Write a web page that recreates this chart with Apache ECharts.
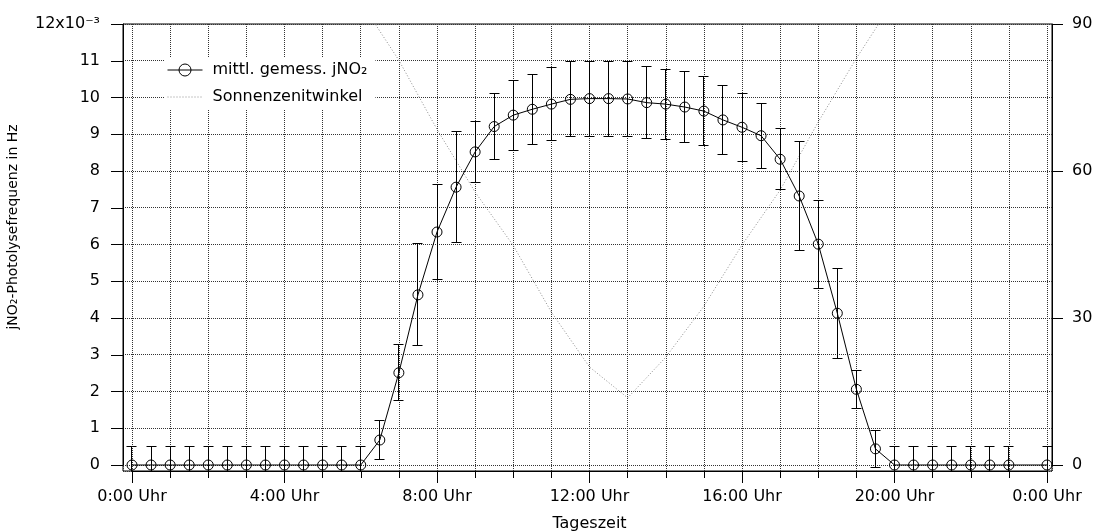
<!DOCTYPE html>
<html>
<head>
<meta charset="utf-8">
<script src="https://cdn.jsdelivr.net/npm/echarts@6/dist/echarts.min.js"></script>
<style>
  html, body { margin: 0; padding: 0; background: #fff; }
  #chart { width: 1101px; height: 531px; }
</style>
</head>
<body>
<div id="chart"></div>
<script>
// Time of day (hours) of the half-hourly means
var times = [0, 0.5, 1, 1.5, 2, 2.5, 3, 3.5, 4, 4.5, 5, 5.5, 6, 6.5, 7, 7.5, 8, 8.5, 9, 9.5,
             10, 10.5, 11, 11.5, 12, 12.5, 13, 13.5, 14, 14.5, 15, 15.5, 16, 16.5, 17, 17.5,
             18, 18.5, 19, 19.5, 20, 20.5, 21, 21.5, 22, 22.5, 23, 24];
// mean measured jNO2 in 10^-3 Hz
var jno2 = [0, 0, 0, 0, 0, 0, 0, 0, 0, 0, 0, 0, 0,
            0.68, 2.51, 4.63, 6.34, 7.56, 8.52, 9.21, 9.52, 9.68, 9.82, 9.95, 9.97, 9.97, 9.96,
            9.86, 9.82, 9.74, 9.63, 9.39, 9.19, 8.96, 8.32, 7.32, 6.01, 4.13, 2.06, 0.44,
            0, 0, 0, 0, 0, 0, 0, 0];
// standard deviation of jNO2 in 10^-3 Hz
var jno2Err = [0.5, 0.5, 0.5, 0.5, 0.5, 0.5, 0.5, 0.5, 0.5, 0.5, 0.5, 0.5, 0.5,
               0.52, 0.76, 1.39, 1.30, 1.51, 0.84, 0.91, 0.95, 0.95, 1.00, 1.02, 1.02, 1.02, 1.02,
               0.98, 0.95, 0.97, 0.94, 0.95, 0.92, 0.88, 0.83, 1.47, 1.20, 1.23, 0.51, 0.51,
               0.5, 0.5, 0.5, 0.5, 0.5, 0.5, 0.5, 0.5];
// solar zenith angle in degrees, hourly
var zenithTimes = [6, 7, 8, 9, 10, 11, 12, 13, 14, 15, 16, 17, 18, 19, 20];
var zenith = [94.5, 82.6, 68.5, 55.7, 44.8, 31.2, 20.0, 13.7, 22.0, 32.4, 44.9, 56.1, 70.0, 83.0, 95.0];

// axis ranges and tick spacing
var X_RANGE = [0, 24], X_MINOR_STEP = 1, X_LABEL_STEP = 4;
var Y_RANGE = [0, 12], Y_STEP = 1;
var Y2_RANGE = [0, 90], Y2_STEP = 30;

var FONT = 'DejaVu Sans';
// the frame reaches a little beyond the data range on each side (in axis units)
var X_PAD = [0.236, 0.131];
var Y_PAD = 0.1633;
var Y2_PAD = Y_PAD * Y2_RANGE[1] / Y_RANGE[1];

var NAME_J = 'mittl. gemess. jNO\u2082';
var NAME_Z = 'Sonnenzenitwinkel';

var lineData = times.map(function (t, i) { return [t, jno2[i]]; });
var errData = times.map(function (t, i) { return [t, jno2[i] - jno2Err[i], jno2[i] + jno2Err[i]]; });
var zenData = zenithTimes.map(function (t, i) { return [t, zenith[i]]; });

function crisp(v) { return Math.round(v - 0.5) + 0.5; }

var black = { color: '#000', width: 1 };
var gridLine = { show: true, lineStyle: { color: '#333', width: 1, type: 'dotted' } };
var off = { show: false };
var axisOff = { show: false, onZero: false };
var axisOn = { show: true, onZero: false, lineStyle: black };

var chart = echarts.init(document.getElementById('chart'), null, { renderer: 'canvas' });
chart.setOption({
  animation: false,
  backgroundColor: '#fff',
  textStyle: { fontFamily: FONT },
  grid: [{
    // plot frame; holds the series and the dotted grid
    left: 123, right: 49, top: 24, bottom: 60,
    show: true, borderColor: '#000', borderWidth: 1, backgroundColor: 'transparent',
    containLabel: false, outerBoundsMode: 'none'
  }, {
    // data range; carries the tick marks and labels
    left: 132, right: 54, top: 24, bottom: 66,
    show: false, containLabel: false, outerBoundsMode: 'none'
  }],
  legend: {
    orient: 'vertical', left: 165, top: 57,
    backgroundColor: '#fff', padding: [5, 8, 5, 2],
    itemWidth: 35, itemHeight: 15, itemGap: 11,
    selectedMode: false,
    textStyle: { fontFamily: FONT, fontSize: 16, color: '#000', lineHeight: 16, padding: [0, 0, 0, 5] },
    data: [
      { name: NAME_J, itemStyle: { color: 'rgba(0,0,0,0)', borderColor: '#000', borderWidth: 1 },
        lineStyle: { color: '#000', width: 1, type: 'solid' } },
      { name: NAME_Z, itemStyle: { color: 'rgba(0,0,0,0)', borderWidth: 0, opacity: 0 },
        lineStyle: { color: '#8c8c8c', width: 1, type: [1, 2] } }
    ]
  },
  xAxis: [{
    // frame x axis: hourly grid lines
    gridIndex: 0, type: 'value',
    min: X_RANGE[0] - X_PAD[0], max: X_RANGE[1] + X_PAD[1],
    minInterval: X_MINOR_STEP, maxInterval: X_MINOR_STEP,
    axisLine: axisOff, axisTick: off, axisLabel: off, splitLine: gridLine
  }, {
    // hourly ticks
    gridIndex: 1, type: 'value', position: 'bottom', offset: 6,
    min: X_RANGE[0], max: X_RANGE[1], interval: X_MINOR_STEP,
    name: 'Tageszeit', nameLocation: 'middle', nameGap: 45, nameMoveOverlap: false,
    nameTextStyle: { fontFamily: FONT, fontSize: 16, color: '#000' },
    axisLine: axisOn,
    axisTick: { show: true, length: 7, lineStyle: black },
    axisLabel: off, splitLine: off
  }, {
    // four-hourly ticks with labels
    gridIndex: 1, type: 'value', position: 'bottom', offset: 6,
    min: X_RANGE[0], max: X_RANGE[1], interval: X_LABEL_STEP,
    axisLine: axisOff,
    axisTick: { show: true, length: 12, lineStyle: black },
    axisLabel: {
      show: true, margin: 18, fontFamily: FONT, fontSize: 16, color: '#000',
      formatter: function (v) { return (Math.round(v) % 24) + ':00 Uhr'; }
    },
    splitLine: off
  }],
  yAxis: [{
    // frame left axis: grid lines for jNO2
    gridIndex: 0, type: 'value',
    min: Y_RANGE[0] - Y_PAD, max: Y_RANGE[1],
    minInterval: Y_STEP, maxInterval: Y_STEP,
    axisLine: axisOff, axisTick: off, axisLabel: off, splitLine: gridLine
  }, {
    // frame right axis: zenith angle scale
    gridIndex: 0, type: 'value', position: 'right',
    min: Y2_RANGE[0] - Y2_PAD, max: Y2_RANGE[1],
    axisLine: axisOff, axisTick: off, axisLabel: off, splitLine: off
  }, {
    gridIndex: 1, type: 'value', position: 'left', offset: 9,
    min: Y_RANGE[0], max: Y_RANGE[1], interval: Y_STEP,
    name: 'jNO\u2082-Photolysefrequenz in Hz', nameLocation: 'middle', nameRotate: 90,
    nameGap: 103, nameMoveOverlap: false,
    nameTextStyle: { fontFamily: FONT, fontSize: 14, color: '#000', padding: [0, 0, 0, 35] },
    axisLine: axisOn,
    axisTick: { show: true, length: 12, lineStyle: black },
    axisLabel: {
      show: true, margin: 23, fontFamily: FONT, fontSize: 16, color: '#000',
      formatter: function (v) { return v === Y_RANGE[1] ? '12x10\u207B\u00B3' : String(v); }
    },
    splitLine: off
  }, {
    gridIndex: 1, type: 'value', position: 'right', offset: 5,
    min: Y2_RANGE[0], max: Y2_RANGE[1], interval: Y2_STEP,
    axisLine: axisOn,
    axisTick: { show: true, length: 11, lineStyle: black },
    axisLabel: { show: true, margin: 20, fontFamily: FONT, fontSize: 16, color: '#000' },
    splitLine: off
  }],
  series: [{
    name: NAME_Z, type: 'line', xAxisIndex: 0, yAxisIndex: 1,
    data: zenData, symbol: 'none', clip: true, z: 1, silent: true,
    lineStyle: { color: '#8c8c8c', width: 1, type: [1, 2] },
    itemStyle: { color: '#8c8c8c' }
  }, {
    name: 'Standardabweichung', type: 'custom', xAxisIndex: 0, yAxisIndex: 0,
    data: errData, clip: true, z: 2, silent: true,
    encode: { x: 0, y: [1, 2] },
    renderItem: function (params, api) {
      var x = api.value(0);
      var lo = api.coord([x, api.value(1)]);
      var hi = api.coord([x, api.value(2)]);
      var cx = crisp(lo[0]);
      var yLo = crisp(lo[1]), yHi = crisp(hi[1]);
      var w = 5;
      var st = { stroke: '#000', lineWidth: 1 };
      return {
        type: 'group',
        children: [
          { type: 'line', shape: { x1: cx, y1: yLo, x2: cx, y2: yHi }, style: st },
          { type: 'line', shape: { x1: cx - w, y1: yHi, x2: cx + w, y2: yHi }, style: st },
          { type: 'line', shape: { x1: cx - w, y1: yLo, x2: cx + w, y2: yLo }, style: st }
        ]
      };
    }
  }, {
    name: NAME_J, type: 'line', xAxisIndex: 0, yAxisIndex: 0,
    data: lineData, symbol: 'circle', symbolSize: 10, showSymbol: true, clip: true, z: 3, silent: true,
    lineStyle: { color: '#000', width: 1 },
    itemStyle: { color: 'rgba(0,0,0,0)', borderColor: '#000', borderWidth: 1 }
  }]
});
</script>
</body>
</html>
